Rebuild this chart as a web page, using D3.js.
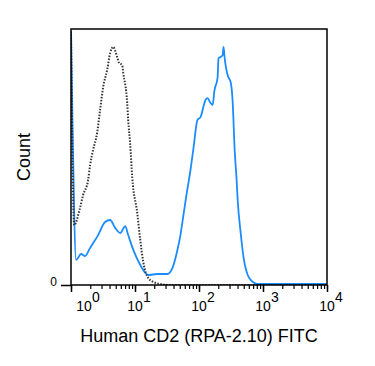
<!DOCTYPE html>
<html>
<head>
<meta charset="utf-8">
<script src="https://d3js.org/d3.v7.min.js"></script>
<style>
  body { margin: 0; background: #fff; }
  text { font-family: "Liberation Sans", Arial, sans-serif; fill: #000; }
</style>
</head>
<body>
<div id="chart-container"></div>
<script>
// fluorescence intensity (FITC) and count (% of axis max)
var stainedX = [1.0, 1.07, 1.2, 1.44, 1.66, 1.99, 2.38, 2.56, 3.41, 4.09, 4.9, 5.88, 7.03, 7.83, 9.4,
    12.1, 14.5, 16.1, 22.3, 32.1, 38.4, 46, 51.3, 57.1, 63.7, 73.6, 82, 94.6, 105.7, 126.5, 135.8,
    151.4, 163, 175, 195, 202, 217, 234, 242, 251, 280, 290, 312, 335, 361, 387, 402, 448, 499,
    577, 643, 828, 10000];
var stainedY = [99, 55, 9.8, 12.1, 11.3, 14.5, 17.6, 18.8, 24.6, 25.4, 22.3, 20.3, 23, 19.5, 13.7,
    7.8, 4.7, 3.9, 4.3, 4.3, 6.6, 13.7, 19.5, 27.3, 35.2, 44.9, 53.5, 64.5, 65.6, 72.3, 73,
    71.1, 70.3, 76.2, 80.9, 88.7, 89.1, 89.8, 93, 89, 82, 81, 79.3, 72, 52.7, 41, 33.2, 20.3, 10.5,
    3.9, 2, 0.4, 0.4];

var isotypeX = [1.0, 1.12, 1.38, 1.54, 1.85, 1.99, 2.21, 2.56, 2.85, 3.18, 3.67, 4.09, 4.56, 5.27,
    5.66, 6.31, 6.55, 7.55, 7.83, 8.41, 9.06, 10.84, 12.08, 13.46, 16.14, 19.3, 24.9, 35.7, 10000];
var isotypeY = [99, 23.4, 30, 35, 41, 46.9, 52.7, 59.4, 68.4, 77.3, 84, 90.6, 93, 89,
    86.7, 85.9, 82.8, 71.1, 64.5, 55, 42, 28.1, 17.6, 9, 2.7, 1.2, 0.4, 0, 0];

var majorTicks = [1, 10, 100, 1000, 10000];
var majorExp = ["0", "1", "2", "3", "4"];
var yTicks = [0];

var xTitle = "Human CD2 (RPA-2.10) FITC";
var yTitle = "Count";

var settings = {
    w: 375,
    h: 366,
    left: 71,
    top: 29,
    plotW: 256,
    plotH: 256
};

var svg = d3.select("#chart-container").append("svg")
    .attr("width", settings.w).attr("height", settings.h);

var xScale = d3.scaleLog()
    .domain([1, 10000])
    .range([settings.left, settings.left + settings.plotW]);

var yScale = d3.scaleLinear()
    .domain([0, 100])
    .range([settings.top + settings.plotH, settings.top]);

svg.append("clipPath").attr("id", "plot-clip")
    .append("rect")
    .attr("x", settings.left).attr("y", settings.top - 1)
    .attr("width", settings.plotW).attr("height", settings.plotH + 1);

function zipSeries(xs, ys) {
    return xs.map(function(v, i) { return {x: v, y: ys[i]}; });
}

var line = d3.line()
    .x(function(d) { return xScale(d.x); })
    .y(function(d) { return yScale(d.y); })
    .curve(d3.curveMonotoneX);

var plot = svg.append("g").attr("clip-path", "url(#plot-clip)");

plot.append("path")
    .datum(zipSeries(stainedX, stainedY))
    .attr("d", line)
    .attr("fill", "none")
    .attr("stroke", "#1b8cff")
    .attr("stroke-width", 1.8);

plot.append("path")
    .datum(zipSeries(isotypeX, isotypeY))
    .attr("d", line)
    .attr("fill", "none")
    .attr("stroke", "#333")
    .attr("stroke-width", 2)
    .attr("stroke-dasharray", "1.5,1.5");

// frame
svg.append("rect")
    .attr("x", settings.left).attr("y", settings.top)
    .attr("width", settings.plotW).attr("height", settings.plotH)
    .attr("fill", "none")
    .attr("stroke", "#000")
    .attr("stroke-width", 1.5);

// x axis: minor then major ticks
var base = settings.top + settings.plotH;
var minorAxis = d3.axisBottom(xScale)
    .tickValues(xScale.ticks())
    .tickSize(4)
    .tickFormat("");
svg.append("g")
    .attr("class", "x-axis-minor")
    .attr("transform", "translate(0," + base + ")")
    .call(minorAxis)
    .call(function(g) { g.select(".domain").remove(); })
    .selectAll("line").attr("stroke", "#000").attr("stroke-width", 1.2);

var majorAxis = d3.axisBottom(xScale)
    .tickValues(majorTicks)
    .tickSize(7)
    .tickFormat("");
svg.append("g")
    .attr("class", "x-axis-major")
    .attr("transform", "translate(0," + base + ")")
    .call(majorAxis)
    .call(function(g) { g.select(".domain").remove(); })
    .selectAll("line").attr("stroke", "#000").attr("stroke-width", 1.5);

var labels = svg.append("g").attr("class", "x-labels")
    .selectAll("g")
    .data(majorTicks)
    .enter()
    .append("g")
    .attr("transform", function(d, i) {
        return "translate(" + (xScale(d) + (i === 0 ? 13 : 0)) + ",0)";
    });

labels.append("text")
    .attr("y", 311)
    .attr("text-anchor", "middle")
    .style("font-size", "14px")
    .text("10");

labels.append("text")
    .attr("x", 8)
    .attr("y", 302)
    .attr("text-anchor", "start")
    .style("font-size", "14px")
    .text(function(d, i) { return majorExp[i]; });

// y axis
var yAxis = d3.axisLeft(yScale)
    .tickValues(yTicks)
    .tickSize(10)
    .tickPadding(4)
    .tickFormat(d3.format("d"));
var yAxisDom = svg.append("g")
    .attr("class", "y-axis")
    .attr("transform", "translate(" + settings.left + ",0)")
    .call(yAxis);
yAxisDom.select(".domain").remove();
yAxisDom.selectAll("line").attr("stroke", "#000").attr("stroke-width", 1.5);
yAxisDom.selectAll("text")
    .attr("dy", null)
    .attr("y", 0)
    .style("font-size", "12px")
    .style("font-family", "Liberation Sans, Arial, sans-serif")
    .attr("fill", "#000");

// titles
svg.append("text")
    .attr("x", 199)
    .attr("y", 342)
    .attr("text-anchor", "middle")
    .style("font-size", "18px")
    .text(xTitle);

svg.append("text")
    .attr("transform", "translate(30,157) rotate(-90)")
    .attr("text-anchor", "middle")
    .style("font-size", "18px")
    .text(yTitle);
</script>
</body>
</html>
